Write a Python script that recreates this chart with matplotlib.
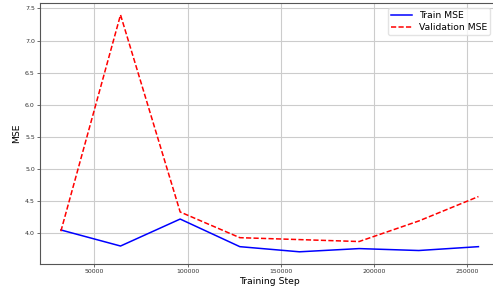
import matplotlib
matplotlib.use("Agg")
import matplotlib.pyplot as plt

steps = [32000, 64000, 96000, 128000, 160000, 192000, 224000, 256000]
train_mse = [4.05, 3.80, 4.22, 3.79, 3.71, 3.76, 3.73, 3.79]
val_mse = [4.03, 7.40, 4.33, 3.93, 3.90, 3.87, 4.19, 4.57]

W, H = 493, 295
fig = plt.figure(figsize=(W / 100, H / 100), dpi=100)
ax = fig.add_axes([40 / W, 31 / H, 459.3 / W, (264 - 3.3) / H])

ax.plot(steps, train_mse, color="blue", lw=1.1, label="Train MSE")
ax.plot(steps, val_mse, color="red", lw=1.1, ls=(0, (3.4, 1.5)), label="Validation MSE")

ax.set_xlim(20800, 267200)
ax.set_ylim(3.52, 7.58)
ax.set_yticks([4.0, 4.5, 5.0, 5.5, 6.0, 6.5, 7.0, 7.5])
ax.set_xticks([50000, 100000, 150000, 200000, 250000])
ax.ticklabel_format(style="plain", axis="x")
ax.tick_params(labelsize=4.5, length=2.2, width=0.5, colors="#333333", pad=1.5)
ax.grid(True, color="#cccccc", lw=0.8)
ax.set_axisbelow(True)
for s in ax.spines.values():
    s.set_color("#555555")
    s.set_linewidth(0.8)

ax.set_xlabel("Training Step", fontsize=6.7, labelpad=2)
ax.set_ylabel("MSE", fontsize=6.7, labelpad=3)

ax.legend(loc="upper right", bbox_to_anchor=(490 / W, (H - 8.3) / H),
          bbox_transform=fig.transFigure, borderaxespad=0, fontsize=6.7,
          handlelength=2.2, frameon=True, framealpha=0.8, edgecolor="#dddddd",
          fancybox=True, borderpad=0.3, labelspacing=0.3)

fig.savefig("out.png", dpi=100)
